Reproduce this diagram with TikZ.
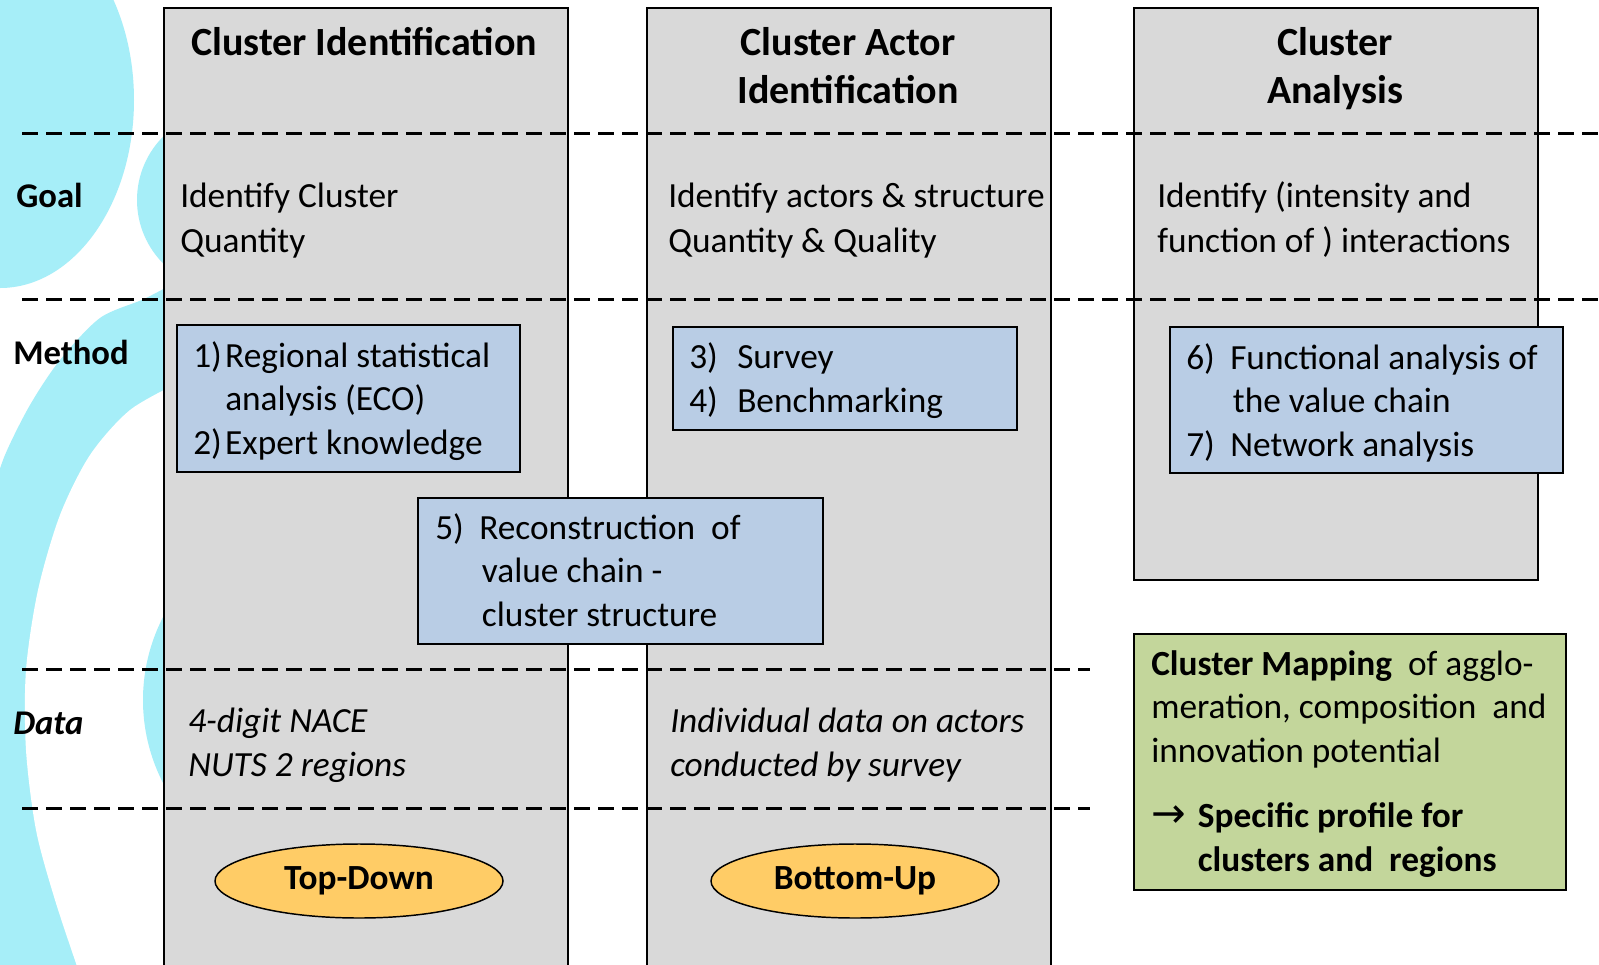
\documentclass[tikz,border=0pt]{standalone}
\usepackage{fontspec}
\setmainfont{Carlito}
\newfontfamily\djv{DejaVu Sans}
\usetikzlibrary{fit,shapes.geometric}
\definecolor{bgcyan}{HTML}{A6EEF8}
\definecolor{colgray}{HTML}{D9D9D9}
\definecolor{boxblue}{HTML}{B9CDE5}
\definecolor{boxgreen}{HTML}{C3D69B}
\definecolor{ovalorange}{HTML}{FFCC66}
\newcommand\bodyf{\fontsize{26.5}{32.5}\selectfont}
\newcommand\goalf{\fontsize{26.5}{33.5}\selectfont}
\newcommand\dataf{\fontsize{26.5}{33}\selectfont\itshape}
\newcommand\headf{\fontsize{30}{36}\selectfont\bfseries}
\newcommand\itm[2]{\makebox[#1][l]{#2}}
\begin{document}
\begin{tikzpicture}[x=0.75pt,y=-0.75pt,
  colbox/.style={draw=black, line width=1.1pt, fill=colgray, inner sep=0pt},
  bluebox/.style={draw=black, line width=1.1pt, fill=boxblue, inner sep=0pt},
  greenbox/.style={draw=black, line width=1.1pt, fill=boxgreen, inner sep=0pt},
  oval/.style={ellipse, draw=black, line width=1.1pt, fill=ovalorange, minimum width=216pt, minimum height=55.5pt, inner sep=0pt, font=\bodyf\bfseries},
  sepline/.style={dash pattern=on 12pt off 6pt, line width=2.25pt},
  txt/.style={anchor=base west, align=left, inner sep=0pt, font=\bodyf},
  head/.style={anchor=base, align=center, inner sep=0pt, font=\headf},
  rowlbl/.style={anchor=base west, inner sep=0pt, font=\fontsize{26}{32}\selectfont\bfseries}
]
\useasboundingbox (0,0) rectangle (1599,964);
% background decoration
\fill[white] (0,0) rectangle (1599,964);
\fill[bgcyan] (0,100) ellipse [x radius=134, y radius=188];
\fill[bgcyan] (227,200) circle [radius=90];
\fill[bgcyan] plot[smooth] coordinates {(180,280) (144,299) (100,318) (60,360) (30,405) (5,455) (-10,500)} -- (-10,975) -- (180,975) -- cycle;
\fill[white] plot[smooth] coordinates {(180,382) (130,410) (90,455) (60,515) (38,590) (26,670) (26,750) (36,830) (55,900) (80,975)} -- (180,975) -- cycle;
\fill[bgcyan] (324,700) circle [radius=181];

% columns
\coordinate (c1a) at (164,8);   \coordinate (c1b) at (568,975);
\coordinate (c2a) at (647,8);   \coordinate (c2b) at (1051,975);
\coordinate (c3a) at (1134,8);  \coordinate (c3b) at (1538,580);
\node[colbox, fit=(c1a)(c1b)] (col1) {};
\node[colbox, fit=(c2a)(c2b)] (col2) {};
\node[colbox, fit=(c3a)(c3b)] (col3) {};

% separator lines
\coordinate (s1a) at (22,133);  \coordinate (s1b) at (1599,133);
\coordinate (s2a) at (22,299);  \coordinate (s2b) at (1599,299);
\coordinate (s3a) at (22,669);  \coordinate (s3b) at (1090,669);
\coordinate (s4a) at (22,808);  \coordinate (s4b) at (1090,808);
\draw[sepline] (s1a) -- (s1b);
\draw[sepline] (s2a) -- (s2b);
\draw[sepline] (s3a) -- (s3b);
\draw[sepline] (s4a) -- (s4b);

% headers (anchor = baseline of the last line)
\node[head] (h1) at (364,55) {Cluster Identification};
\node[head] (h2) at (848,103) {Cluster Actor\\Identification};
\node[head] (h3) at (1335,103) {Cluster\\Analysis};

% row labels
\node[rowlbl] (lgoal) at (16,207) {Goal};
\node[rowlbl] (lmethod) at (13,364) {Method};
\node[rowlbl, font=\fontsize{26}{32}\selectfont\bfseries\itshape] (ldata) at (13,734) {Data};

% goals
\node[txt, font=\goalf] (g1) at (180,252) {Identify Cluster\\Quantity};
\node[txt, font=\goalf] (g2) at (668,252) {Identify actors \& structure\\Quantity \& Quality};
\node[txt, font=\goalf] (g3) at (1157,252) {Identify (intensity and\\function of ) interactions};

% method boxes
\coordinate (b1a) at (177,325); \coordinate (b1b) at (520,472);
\coordinate (b2a) at (673,327); \coordinate (b2b) at (1017,430);
\coordinate (b3a) at (1170,327); \coordinate (b3b) at (1563,473);
\coordinate (b4a) at (418,498); \coordinate (b4b) at (823,644);
\node[bluebox, fit=(b1a)(b1b)] (m1) {};
\node[bluebox, fit=(b2a)(b2b)] (m2) {};
\node[bluebox, fit=(b3a)(b3b)] (m3) {};
\node[bluebox, fit=(b4a)(b4b)] (m4) {};
\node[txt] (t1) at (193,454) {\itm{24pt}{1)}Regional statistical\\\hspace*{24pt}analysis (ECO)\\\itm{24pt}{2)}Expert knowledge};
\node[txt] (t2) at (689,412) {\itm{36pt}{3)}Survey\\\itm{36pt}{4)}Benchmarking};
\node[txt] (t3) at (1186,456) {\itm{33pt}{6)}Functional analysis of\\\hspace*{35pt}the value chain\\\itm{33pt}{7)}Network analysis};
\node[txt] (t4) at (435,626) {\itm{33pt}{5)}Reconstruction\ \ of\\\hspace*{35pt}value chain -\\\hspace*{35pt}cluster structure};

% data
\node[txt, font=\dataf] (d1) at (188,776) {4-digit NACE\\NUTS 2 regions};
\node[txt, font=\dataf] (d2) at (670,776) {Individual data on actors\\conducted by survey};

% approaches
\node[oval] (td) at (359,881) {Top-Down};
\node[oval] (bu) at (855,881) {Bottom-Up};

% cluster mapping
\coordinate (ga) at (1134,634); \coordinate (gb) at (1566,890);
\node[greenbox, fit=(ga)(gb)] (gm) {};
\node[txt] (gt1) at (1151,762) {\textbf{Cluster Mapping}\ \ of agglo-\\meration, composition\ \ and\\innovation potential};
\node[txt, font=\bodyf\bfseries] (gt2) at (1151,871) {\itm{35pt}{\mdseries\djv\fontsize{31}{30}\selectfont →}Specific profile for\\\hspace*{35pt}clusters and\ \ regions};
\end{tikzpicture}
\end{document}
